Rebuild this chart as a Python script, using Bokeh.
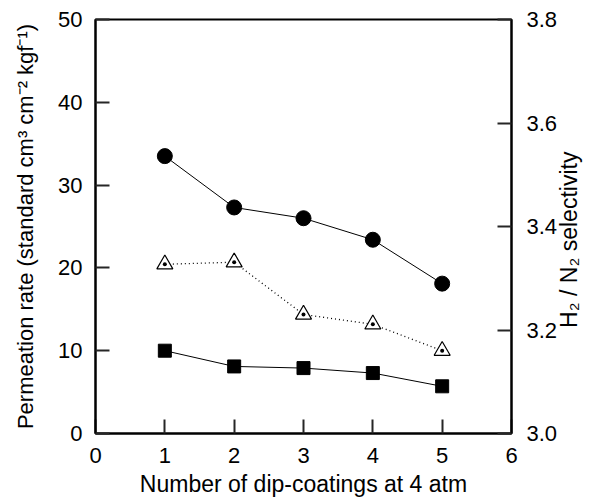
import math
from bokeh.plotting import figure
from bokeh.models import Range1d, LinearAxis, FixedTicker, NumeralTickFormatter
from bokeh.embed import file_html
from bokeh.resources import INLINE

# ---- data ----
coatings = [1, 2, 3, 4, 5]
h2_permeation = [33.5, 27.3, 26.0, 23.4, 18.1]
n2_permeation = [10.0, 8.1, 7.9, 7.3, 5.7]
selectivity = [3.327, 3.331, 3.230, 3.211, 3.160]

x_ticks = [0, 1, 2, 3, 4, 5, 6]
left_ticks = [0, 10, 20, 30, 40, 50]
right_ticks = [3.0, 3.2, 3.4, 3.6, 3.8]

x_label = "Number of dip-coatings at 4 atm"
left_label = "Permeation rate (standard cm\u00b3 cm\u207b\u00b2 kgf\u207b\u00b9)"
right_label = "H\u2082 / N\u2082 selectivity"

FONT = "Liberation Sans"
FS = "22px"
TICK_COLOR = "#262626"

W, H = 598, 499
BL, BR, BT, BB = 95, 87, 19, 66
RIGHT_TITLE_START = 0.255   # fraction of frame height where the rotated right title begins

xs0, xs1 = x_ticks[0], x_ticks[-1]
yl0, yl1 = left_ticks[0], left_ticks[-1]
yr0, yr1 = right_ticks[0], right_ticks[-1]

p = figure(width=W, height=H, output_backend="svg", toolbar_location=None,
           x_range=Range1d(xs0, xs1), y_range=Range1d(yl0, yl1),
           min_border_left=BL, min_border_right=BR, min_border_top=BT, min_border_bottom=BB)
p.extra_y_ranges = {"sel": Range1d(yr0, yr1), "lab": Range1d(0, 1)}
p.xgrid.visible = False
p.ygrid.visible = False
p.outline_line_color = "black"
p.outline_line_width = 2
p.background_fill_color = "white"
p.border_fill_color = "white"

# lines
p.line(coatings, h2_permeation, line_color="black", line_width=1)
p.line(coatings, n2_permeation, line_color="black", line_width=1)
p.line(coatings, selectivity, y_range_name="sel", line_color="black", line_width=1.3,
       line_dash="1 3")

# markers
p.scatter(coatings, h2_permeation, marker="circle", size=15, fill_color="black", line_color="black")
p.scatter(coatings, n2_permeation, marker="square", size=13, fill_color="black", line_color="black")
p.scatter(coatings, selectivity, y_range_name="sel", marker="triangle_dot", size=16,
          fill_color="white", line_color="black", line_width=1.2)


def style_axis(ax):
    ax.axis_line_width = 2
    ax.axis_line_color = "black"
    ax.major_tick_in = 14
    ax.major_tick_out = 0
    ax.major_tick_line_width = 2
    ax.major_tick_line_color = TICK_COLOR
    ax.minor_tick_line_color = None
    ax.major_label_text_font = FONT
    ax.major_label_text_font_size = FS
    ax.major_label_text_color = "black"
    ax.axis_label_text_font = FONT
    ax.axis_label_text_font_size = "23px"
    ax.axis_label_text_font_style = "normal"
    ax.axis_label_text_color = "black"


xa = p.xaxis[0]
xa.ticker = FixedTicker(ticks=x_ticks)
xa.axis_label = x_label
style_axis(xa)
xa.major_label_standoff = 14
xa.axis_label_standoff = 5

ya = p.yaxis[0]
ya.ticker = FixedTicker(ticks=left_ticks)
ya.axis_label = left_label
style_axis(ya)
ya.axis_label_text_font_size = "22px"
ya.major_label_standoff = 13
ya.axis_label_standoff = 17

ra = LinearAxis(y_range_name="sel", ticker=FixedTicker(ticks=right_ticks),
                formatter=NumeralTickFormatter(format="0.0"))
style_axis(ra)
ra.major_label_standoff = 15
p.add_layout(ra, "right")

# right title: the single rotated tick label of a bare second axis
la = LinearAxis(y_range_name="lab", ticker=FixedTicker(ticks=[RIGHT_TITLE_START]),
                major_label_overrides={RIGHT_TITLE_START: right_label})
style_axis(la)
la.axis_line_color = None
la.major_tick_line_color = None
la.major_tick_in = 0
la.major_label_text_font_size = "23px"
la.major_label_orientation = math.pi / 2
la.major_label_standoff = 9
p.add_layout(la, "right")

open("out.html", "w").write(file_html(p, INLINE))
